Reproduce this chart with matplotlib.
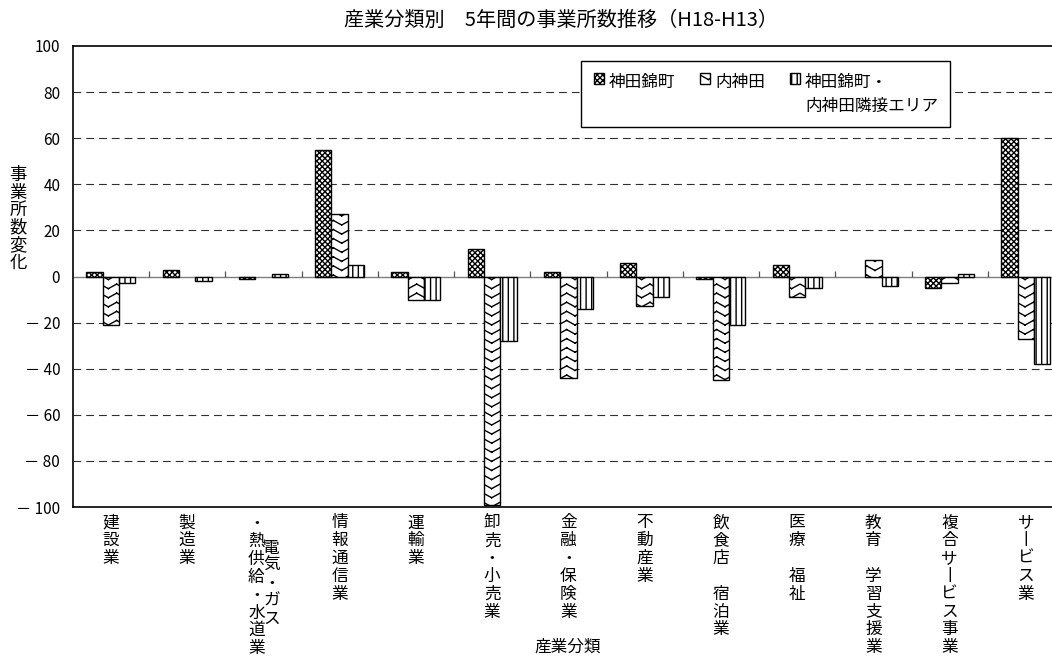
import warnings
import numpy as np
import matplotlib
matplotlib.use("Agg")
import matplotlib.pyplot as plt
from matplotlib import hatch as mhatch
from matplotlib.path import Path

warnings.filterwarnings("ignore", message=".*hatch must consist.*")

# ---------------- data ----------------
categories = ["建設業", "製造業", "電気・ガス・熱供給・水道業", "情報通信業", "運輸業",
              "卸売・小売業", "金融・保険業", "不動産業", "飲食店，宿泊業", "医療，福祉",
              "教育，学習支援業", "複合サービス事業", "サービス業"]
series_names = ["神田錦町", "内神田", "神田錦町・\n内神田隣接エリア"]
kanda_nishikicho = [2, 3, -1, 55, 2, 12, 2, 6, -1, 5, 0, -5, 60]
uchi_kanda = [-21, 0, 0, 27, -10, -99, -44, -13, -45, -9, 7, -3, -27]
adjacent_area = [-3, -2, 1, 5, -10, -28, -14, -9, -21, -5, -4, 1, -38]
y_ticks = [-100, -80, -60, -40, -20, 0, 20, 40, 60, 80, 100]
y_tick_labels = ["－ 100", "－ 80", "－ 60", "－ 40", "－ 20", "0", "20", "40", "60", "80", "100"]
title = "産業分類別　5年間の事業所数推移（H18-H13）"
x_label = "産業分類"
y_label = "事業所数変化"


# ---------------- custom zigzag hatch ----------------
class ZigZagHatch(mhatch.HatchPatternBase):
    """Rows of V-shaped chevrons, built from straight segments."""

    def __init__(self, hatch, density):
        n = hatch.count("z")
        self.rows = 11 * n
        self.cols = 6
        self.num_vertices = self.rows * self.cols * 2 * 2 if n else 0

    def set_vertices_and_codes(self, vertices, codes):
        depth = 0.5 / self.rows
        ys = (np.arange(self.rows) + 0.5) / self.rows
        xs = np.linspace(0, 1, 2 * self.cols + 1)
        idx = 0
        for y in ys:
            for j in range(2 * self.cols):
                y_a = y + (depth / 2 if j % 2 == 0 else -depth / 2)
                y_b = y + (-depth / 2 if j % 2 == 0 else depth / 2)
                vertices[idx] = (xs[j], y_a)
                vertices[idx + 1] = (xs[j + 1], y_b)
                codes[idx] = Path.MOVETO
                codes[idx + 1] = Path.LINETO
                idx += 2


mhatch._hatch_types.append(ZigZagHatch)

plt.rcParams["font.family"] = ["Noto Sans CJK JP", "DejaVu Sans"]
plt.rcParams["hatch.linewidth"] = 1.0

W, H = 1052, 657
fig = plt.figure(figsize=(W / 100, H / 100), dpi=100)
ax_left, ax_right, ax_top, ax_bottom = 72.75, 1064.0, 46.0, 507.0
ax = fig.add_axes([ax_left / W, 1 - ax_bottom / H, (ax_right - ax_left) / W, (ax_bottom - ax_top) / H])

n = len(categories)
x = np.arange(n)
bw = 0.215
series = [kanda_nishikicho, uchi_kanda, adjacent_area]
hatches = ["xxxxxx", "z", "|||"]
handles = []
for k, (vals, hatch) in enumerate(zip(series, hatches)):
    vals = np.asarray(vals, dtype=float)
    lw = np.where(vals == 0, 0.0, 1.0)
    bars = ax.bar(x + (k - 1) * bw, vals, bw, color="white", edgecolor="black",
                  hatch=hatch, linewidth=lw, zorder=3, label=series_names[k])
    handles.append(bars)

ax.set_xlim(-0.5, n - 0.5)
ax.set_ylim(-100, 100)

# gridlines (dashed) and zero line
for t in y_ticks:
    if t in (-100, 0, 100):
        continue
    ax.axhline(t, color="#303030", linewidth=0.8, linestyle=(0, (7, 4.5)), zorder=1)
ax.axhline(0, color="#7f7f7f", linewidth=1.0, zorder=2)
bounds = np.arange(0.5, n - 1, 1.0)
ax.plot(bounds, np.zeros_like(bounds), linestyle="none", marker=2, markersize=4,
        color="#555555", markeredgewidth=0.9, zorder=2)

ax.set_yticks(y_ticks)
ax.set_yticklabels(y_tick_labels, fontsize=11)
ax.tick_params(axis="y", length=0, pad=9)
ax.set_xticks([])
for s in ax.spines.values():
    s.set_linewidth(1.2)
    s.set_color("black")

# vertical category labels
row_step = 17.8
first_row = 16
subs = {"，": "　", "ー": "丨"}
for i, label in enumerate(categories):
    chars = [subs.get(c, c) for c in label]
    if len(chars) > 8:
        columns = [(-7, first_row + 1, chars[5:]), (8, first_row + 25, chars[:5])]
    else:
        columns = [(0, first_row, chars)]
    for dx, y0, col in columns:
        for r, ch in enumerate(col):
            ax.annotate(ch, xy=(i, 0), xycoords=("data", "axes fraction"),
                        xytext=(dx, -(y0 + r * row_step)), textcoords="offset pixels",
                        ha="center", va="center", fontsize=12, annotation_clip=False)

# y label (stacked)
for r, ch in enumerate(y_label):
    fig.text(18 / W, 1 - (175 + r * 17.6) / H, ch, ha="center", va="center", fontsize=12.5)

# x label and title
fig.text(568 / W, 1 - 647 / H, x_label, ha="center", va="center", fontsize=12)
fig.text(561 / W, 1 - 20 / H, title, ha="center", va="center", fontsize=14.5)

# legend
leg = ax.legend(handles=handles, ncol=3, loc="upper left",
                bbox_to_anchor=(581 / W, 1 - 61 / H), bbox_transform=fig.transFigure,
                borderaxespad=0, fontsize=12, handlelength=0.6, handleheight=0.6,
                handletextpad=0.3, columnspacing=1.5, borderpad=0.75,
                fancybox=False, framealpha=1, edgecolor="black")
leg.get_frame().set_linewidth(1.0)
leg.set_zorder(10)
for t in leg.get_texts():
    t.set_linespacing(1.55)
for col in leg._legend_handle_box.get_children():
    for item in col.get_children():
        item.align = "top"
leg._legend_handle_box.align = "top"

fig.savefig("out.png", dpi=100)
